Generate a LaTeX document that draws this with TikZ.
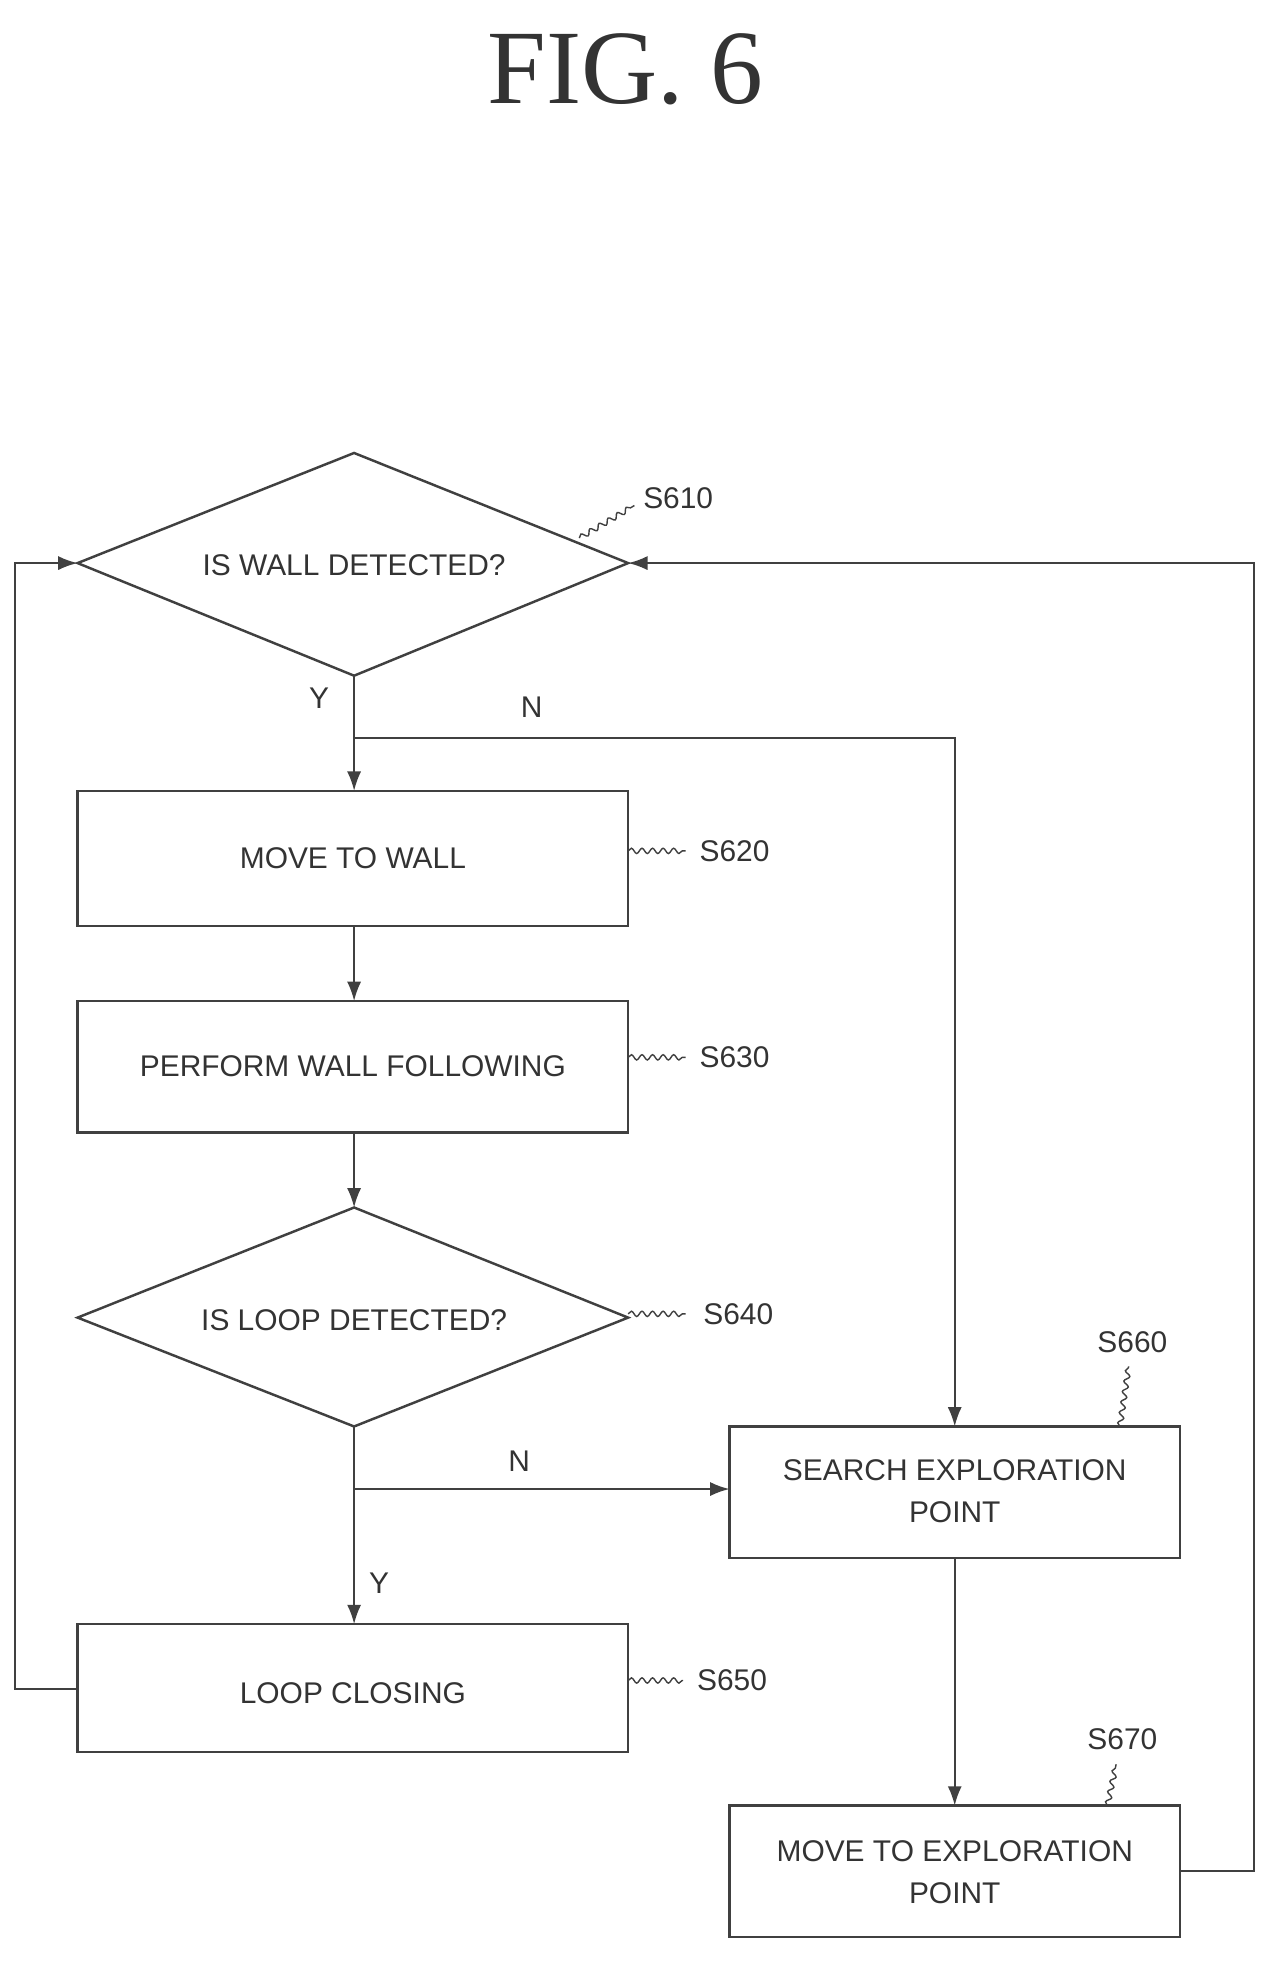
\documentclass[tikz,border=0pt]{standalone}
\usepackage{fontspec}
\setmainfont{Liberation Serif}
\newfontfamily\lab{Liberation Sans}
\usetikzlibrary{shapes.geometric,arrows.meta}
\begin{document}
\begin{tikzpicture}[x=0.025cm,y=-0.025cm,
  line/.style={draw=black!75,line width=1.1pt},
  arr/.style={line,-{Latex[length=11pt,width=8pt]}},
  txt/.style={font=\lab\fontsize{17}{24}\selectfont,align=center,text=black!80},
  box/.style={line,line width=1.4pt},
  sq/.style={line,line width=0.8pt,decorate,decoration={snake,amplitude=1.5pt,segment length=6pt}}]
\usetikzlibrary{decorations.pathmorphing}
\useasboundingbox (0,0) rectangle (1020,1568);
\node[font=\fontsize{60}{60}\selectfont,text=black!80] (title) at (500,55) {FIG. 6};
% S610
\coordinate (d1t) at (283,362); \coordinate (d1r) at (502,450);
\coordinate (d1b) at (283,540); \coordinate (d1l) at (62,450);
\draw[box] (d1t)--(d1r)--(d1b)--(d1l)--cycle;
\node[txt] (t610) at (283,452) {IS WALL DETECTED?};
% S620
\draw[box] (62,632) rectangle (502,740);
\node[txt] (s620) at (282,686) {MOVE TO WALL};
\coordinate (s620t) at (283,632); \coordinate (s620b) at (283,740);
% S630
\draw[box] (62,800) rectangle (502,905);
\node[txt] (s630) at (282,852) {PERFORM WALL FOLLOWING};
\coordinate (s630t) at (283,800); \coordinate (s630b) at (283,905);
% S640
\coordinate (d2t) at (283,965); \coordinate (d2r) at (502,1053);
\coordinate (d2b) at (283,1140); \coordinate (d2l) at (62,1053);
\draw[box] (d2t)--(d2r)--(d2b)--(d2l)--cycle;
\node[txt] (t640) at (283,1055) {IS LOOP DETECTED?};
% S650
\draw[box] (62,1298) rectangle (502,1400);
\node[txt] (s650) at (282,1353) {LOOP CLOSING};
\coordinate (s650t) at (283,1298); \coordinate (s650l) at (62,1350);
% S660
\draw[box] (583,1140) rectangle (943,1245);
\node[txt] (s660) at (763,1192) {SEARCH EXPLORATION\\POINT};
\coordinate (s660t) at (763,1140); \coordinate (s660b) at (763,1245); \coordinate (s660l) at (583,1190);
% S670
\draw[box] (583,1443) rectangle (943,1548);
\node[txt] (s670) at (763,1496) {MOVE TO EXPLORATION\\POINT};
\coordinate (s670t) at (763,1443); \coordinate (s670r) at (943,1495);
% labels
\node[txt] (l610) at (542,398) {S610};
\node[txt] (l620) at (587,680) {S620};
\node[txt] (l630) at (587,845) {S630};
\node[txt] (l640) at (590,1050) {S640};
\node[txt] (l650) at (585,1343) {S650};
\node[txt] (l660) at (905,1073) {S660};
\node[txt] (l670) at (897,1390) {S670};
\draw[sq] (463,430) -- (507,404);
\draw[sq] (502,680) -- (548,680);
\draw[sq] (502,845) -- (548,845);
\draw[sq] (502,1050) -- (548,1050);
\draw[sq] (502,1343) -- (546,1343);
\draw[sq] (895,1140) -- (902,1092);
\draw[sq] (885,1443) -- (892,1410);
% connectors
\coordinate (j1) at (283,590); \coordinate (j2) at (283,1190);
\draw[arr] (d1b) -- (s620t);
\draw[arr] (j1) -| (s660t);
\draw[arr] (s620b) -- (s630t);
\draw[arr] (s630b) -- (d2t);
\draw[arr] (d2b) -- (s650t);
\draw[arr] (j2) -- (s660l);
\draw[arr] (s660b) -- (s670t);
\draw[arr] (s650l) -- (12,1350) -- (12,450) -- (d1l);
\draw[arr] (s670r) -- (1002,1495) -- (1002,450) -- (d1r);
\node[txt] (y1) at (255,558) {Y};
\node[txt] (n1) at (425,565) {N};
\node[txt] (n2) at (415,1168) {N};
\node[txt] (y2) at (303,1265) {Y};
\end{tikzpicture}
\end{document}
